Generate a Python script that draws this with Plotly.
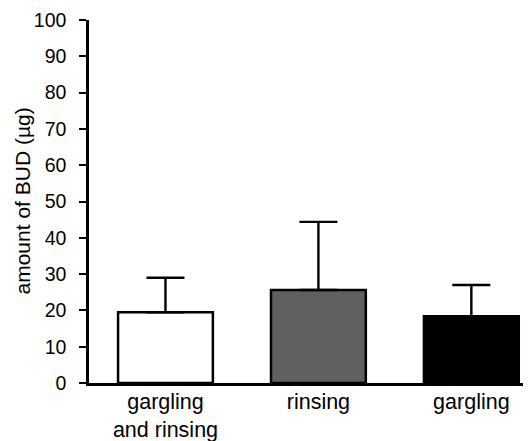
import plotly.graph_objects as go

categories = ["gargling<br>and rinsing", "rinsing", "gargling"]
means = [19.5, 25.6, 18.4]
errors_up = [9.5, 18.8, 8.6]
bar_colors = ["#ffffff", "#606060", "#000000"]
y_ticks = [0, 10, 20, 30, 40, 50, 60, 70, 80, 90, 100]

xpos = list(range(len(categories)))

fig = go.Figure()
fig.add_trace(go.Bar(
    x=xpos, y=means, width=0.62,
    marker=dict(color=bar_colors, line=dict(color="black", width=2.5)),
    error_y=dict(type="data", symmetric=False, array=errors_up,
                 arrayminus=[0] * len(means), color="black", thickness=2.4, width=19),
    showlegend=False,
))

font_family = "Liberation Sans, Arial, sans-serif"
fig.update_layout(
    width=523, height=433,
    margin=dict(l=81, r=0, t=12, b=58, pad=0),
    paper_bgcolor="white", plot_bgcolor="white",
    font=dict(family=font_family, color="black"),
    xaxis=dict(range=[-0.5, 2.39], tickvals=xpos, ticktext=categories,
               showline=True, linecolor="black", linewidth=2.5,
               showgrid=False, zeroline=False, ticks="", automargin=False,
               ticklabelstandoff=-3,
               tickfont=dict(size=21.5, family=font_family, color="black")),
    yaxis=dict(range=[0, 100], tickvals=y_ticks,
               showline=True, linecolor="black", linewidth=2.5,
               showgrid=False, zeroline=False, ticks="outside", ticklen=7,
               tickwidth=2, tickcolor="black", ticklabelstandoff=9, automargin=False,
               tickfont=dict(size=19.5, family=font_family, color="black")),
    annotations=[dict(text="amount of BUD (µg)", textangle=-90,
                      xref="paper", yref="paper", x=(14 - 81) / 442, y=0.5,
                      xanchor="center", yanchor="middle", showarrow=False,
                      font=dict(size=21, family=font_family, color="black"))],
)

fig.write_html("out.html")
